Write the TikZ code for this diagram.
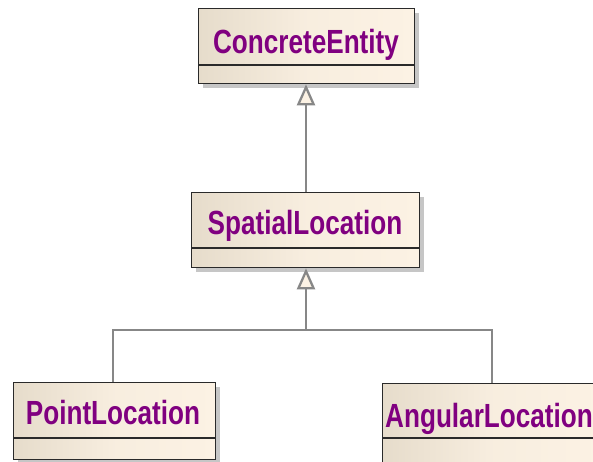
\documentclass[tikz,border=0pt]{standalone}
\usepackage{fontspec}
\newfontfamily\clsfont{Liberation Sans}[FakeStretch=0.78]
\usetikzlibrary{arrows.meta,calc}

\definecolor{clsleft}{HTML}{E6DCCB}
\definecolor{clsright}{HTML}{FCF2E4}
\definecolor{clstext}{HTML}{800080}
\definecolor{linkgray}{HTML}{878787}
\definecolor{shadowgray}{HTML}{C6C6C6}
\definecolor{clsborder}{HTML}{2A2A2A}

\tikzset{
  clsbox/.style={rectangle, draw=clsborder, line width=1.3pt,
    left color=clsleft, right color=clsright,
    middle color=clsright!80!clsleft, inner sep=0pt,
    anchor=north west},
  clsshadow/.style={fill=shadowgray, draw=none},
  clsname/.style={font=\clsfont\bfseries\fontsize{33.5}{40}\selectfont,
    text=clstext, inner sep=0pt},
  clssep/.style={draw=clsborder, line width=1.3pt},
  link/.style={draw=linkgray, line width=2.5pt},
  gen/.style={link, -{Triangle[length=21pt, width=18pt, fill=clsright, line width=2.3pt]}},
}

\begin{document}
\begin{tikzpicture}[x=1pt, y=-1pt]
  \useasboundingbox (0,0) rectangle (593,461);
  \clip (0,0) rectangle (593,461);

  % drop shadows
  \fill[clsshadow] (203,13) rectangle (419,88);
  \fill[clsshadow] (196,197) rectangle (424,272);
  \fill[clsshadow] (18,387) rectangle (220,464);
  \fill[clsshadow] (387,388) rectangle (607,468);

  % class boxes
  \node[clsbox, minimum width=216pt, minimum height=75pt] (ce) at (198,8) {};
  \node[clsbox, minimum width=228pt, minimum height=75pt] (sl) at (191,192) {};
  \node[clsbox, minimum width=202pt, minimum height=77pt] (pl) at (13,382) {};
  \node[clsbox, minimum width=220pt, minimum height=85pt] (al) at (382,383) {};

  % compartment separators
  \draw[clssep] (ce.west |- 0,65) -- (ce.east |- 0,65);
  \draw[clssep] (sl.west |- 0,248) -- (sl.east |- 0,248);
  \draw[clssep] (pl.west |- 0,438) -- (pl.east |- 0,438);
  \draw[clssep] (al.west |- 0,438) -- (al.east |- 0,438);

  % class names
  \node[clsname, anchor=base] (cename) at (306,53) {ConcreteEntity};
  \node[clsname, anchor=base] (slname) at (305,234) {SpatialLocation};
  \node[clsname, anchor=base] (plname) at (113,424) {PointLocation};
  \node[clsname, anchor=base west] (alname) at (385,427) {AngularLocation};

  % generalisation links
  \coordinate (j) at (306,330);
  \draw[link] (pl.north -| 113,0) -- (113,330) -- (492,330) -- (al.north -| 492,0);
  \draw[gen] (j) -- (j |- sl.south);
  \draw[gen] (sl.north -| j) -- (j |- ce.south);
\end{tikzpicture}
\end{document}
